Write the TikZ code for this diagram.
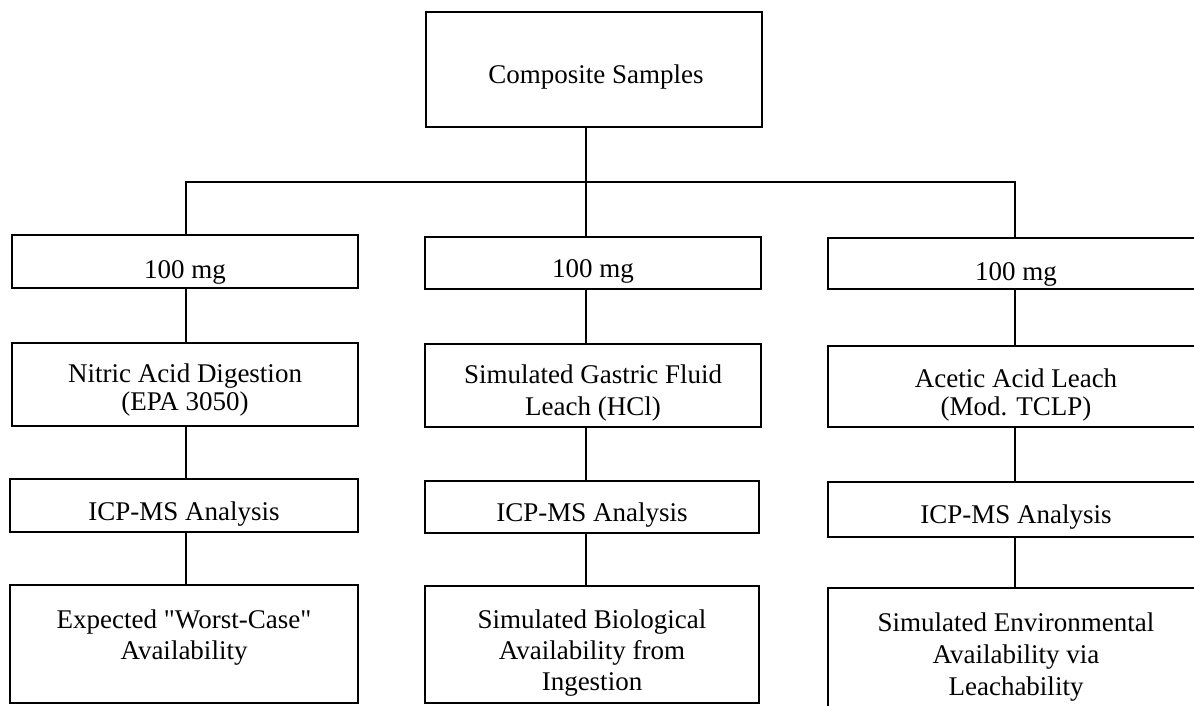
\documentclass[tikz,border=0pt]{standalone}
\usepackage{fontspec}
% plain family without TeX ligature mapping, so " stays a straight quote
\newfontfamily\figfont{Liberation Serif}
\begin{document}
\begin{tikzpicture}[x=1pt,y=-1pt,
  txt/.style={font=\figfont\fontsize{27}{31}\selectfont, inner sep=0pt, align=center, anchor=base},
  tight/.style={font=\figfont\fontsize{27}{28}\selectfont},
  loose/.style={font=\figfont\fontsize{27}{32}\selectfont},
  box/.style={draw, line width=2.3pt, inner sep=0pt, rectangle},
  link/.style={line width=2.3pt}]
\useasboundingbox (0,0) rectangle (1194,705);
\clip (0,0) rectangle (1194,705);

% top of the tree (text nodes are placed by the baseline of their last line)
\node[box, minimum width=336pt, minimum height=115pt] (top) at (594,69.5) {};
\node[txt] (topT) at (596,83) {Composite Samples};

% column axes and the distribution bus
\coordinate (busL) at (186,182);
\coordinate (busM) at (586,182);
\coordinate (busR) at (1015,182);

% left column
\node[box, minimum width=346pt, minimum height=53pt] (amtL) at (185,261.5) {};
\node[txt] (amtLT) at (185,278) {100 mg};
\node[box, minimum width=346pt, minimum height=83pt] (procL) at (185,384.5) {};
\node[txt, tight] (procLT) at (185,410) {Nitric Acid Digestion\\(EPA 3050)};
\node[box, minimum width=348pt, minimum height=53pt] (icpL) at (184,505.5) {};
\node[txt] (icpLT) at (184,520) {ICP-MS Analysis};
\node[box, minimum width=348pt, minimum height=118pt] (resL) at (184,644) {};
\node[txt] (resLT) at (184,659) {Expected "Worst-Case"\\Availability};

% middle column
\node[box, minimum width=336pt, minimum height=52pt] (amtM) at (593,263) {};
\node[txt] (amtMT) at (593,277) {100 mg};
\node[box, minimum width=336pt, minimum height=83pt] (procM) at (593,385.5) {};
\node[txt, loose] (procMT) at (593,415) {Simulated Gastric Fluid\\Leach (HCl)};
\node[box, minimum width=334pt, minimum height=52pt] (icpM) at (592,507) {};
\node[txt] (icpMT) at (592,521) {ICP-MS Analysis};
\node[box, minimum width=334pt, minimum height=117pt] (resM) at (592,644.5) {};
\node[txt] (resMT) at (592,690) {Simulated Biological\\Availability from\\Ingestion};

% right column (runs past the right edge)
\node[box, minimum width=376pt, minimum height=51pt] (amtR) at (1016,263.5) {};
\node[txt] (amtRT) at (1016,280) {100 mg};
\node[box, minimum width=376pt, minimum height=81pt] (procR) at (1016,386.5) {};
\node[txt, tight] (procRT) at (1016,415) {Acetic Acid Leach\\(Mod. TCLP)};
\node[box, minimum width=376pt, minimum height=55pt] (icpR) at (1016,509.5) {};
\node[txt] (icpRT) at (1016,523) {ICP-MS Analysis};
\node[box, minimum width=376pt, minimum height=122pt] (resR) at (1016,649) {};
\node[txt, loose] (resRT) at (1016,695) {Simulated Environmental\\Availability via\\Leachability};

% connectors
\draw[link] (busM |- top.south) -- (busM);
\draw[link] (busL |- amtL.north) -- (busL) -- (busR) -- (busR |- amtR.north);
\draw[link] (busM) -- (busM |- amtM.north);

\draw[link] (busL |- amtL.south) -- (busL |- procL.north);
\draw[link] (busL |- procL.south) -- (busL |- icpL.north);
\draw[link] (busL |- icpL.south) -- (busL |- resL.north);

\draw[link] (busM |- amtM.south) -- (busM |- procM.north);
\draw[link] (busM |- procM.south) -- (busM |- icpM.north);
\draw[link] (busM |- icpM.south) -- (busM |- resM.north);

\draw[link] (busR |- amtR.south) -- (busR |- procR.north);
\draw[link] (busR |- procR.south) -- (busR |- icpR.north);
\draw[link] (busR |- icpR.south) -- (busR |- resR.north);
\end{tikzpicture}
\end{document}
